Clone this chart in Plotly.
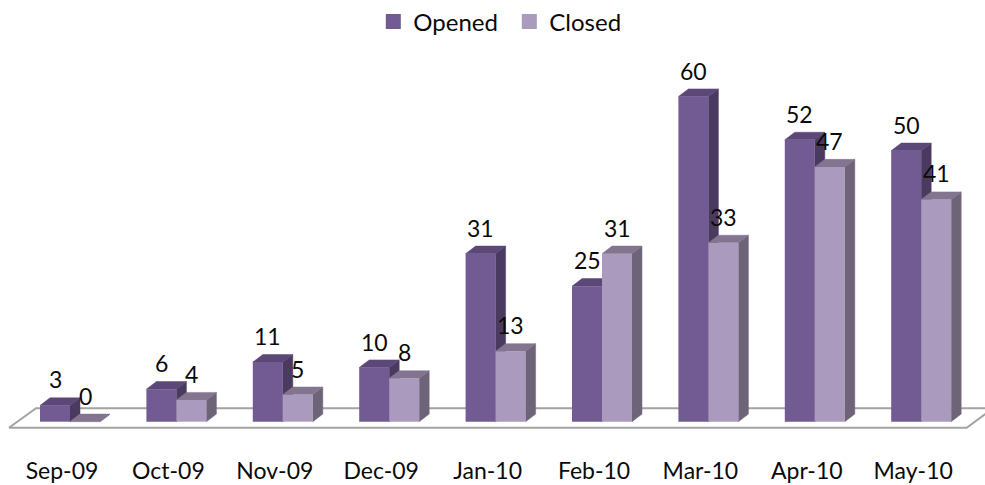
import plotly.graph_objects as go

months = ["Sep-09", "Oct-09", "Nov-09", "Dec-09", "Jan-10", "Feb-10", "Mar-10", "Apr-10", "May-10"]
opened = [3, 6, 11, 10, 31, 25, 60, 52, 50]
closed = [0, 4, 5, 8, 13, 31, 33, 47, 41]

W, H = 985, 485
PX_X = 106.4          # pixels per category
PX_Y = 5.42           # pixels per value unit
X0_PX, Y0_PX = 70.0, 421.7   # pixel position of category 0 / value 0
TOP, BOTTOM = 50, 455
BAR = 30 / PX_X
DX, DY = 10 / PX_X, 7.6 / PX_Y
FONT = "Lato, Open Sans, sans-serif"
TEXT = "#0a0a0a"
SIZE = 23

xr = [(0 - X0_PX) / PX_X, (W - X0_PX) / PX_X]
yr = [(Y0_PX - BOTTOM) / PX_Y, (Y0_PX - TOP) / PX_Y]
idx = list(range(len(months)))


def poly(groups):
    xs, ys = [], []
    for g in groups:
        xs += [p[0] for p in g] + [g[0][0], None]
        ys += [p[1] for p in g] + [g[0][1], None]
    return xs, ys


def faces(values, left_off):
    top, side = [], []
    for i, v in zip(idx, values):
        l, r = i + left_off, i + left_off + BAR
        top.append([(l, v), (r, v), (r + DX, v + DY), (l + DX, v + DY)])
        side.append([(r, 0), (r + DX, DY), (r + DX, v + DY), (r, v)])
    return poly(top), poly(side)


def face_trace(xy, color, z):
    return go.Scatter(x=xy[0], y=xy[1], mode="lines", fill="toself", fillcolor=color,
                      line=dict(color=color, width=0.5), hoverinfo="skip",
                      showlegend=False, zorder=z)


def legend_trace(name, color):
    return go.Scatter(x=[None], y=[None], mode="markers", name=name,
                      marker=dict(symbol="square", size=15, color=color))


fig = go.Figure()

# floor
front_y = (Y0_PX - 427.7) / PX_Y
back_y = (Y0_PX - 408.3) / PX_Y
fx = lambda p: (p - X0_PX) / PX_X
fig.add_trace(go.Scatter(
    x=[fx(9), fx(966.7), fx(993), fx(36), fx(9)],
    y=[front_y, front_y, back_y, back_y, front_y],
    mode="lines", line=dict(color="#a3a3a3", width=2), fill="toself", fillcolor="#ffffff",
    hoverinfo="skip", showlegend=False, zorder=-1))

o_top, o_side = faces(opened, -BAR)
c_top, c_side = faces(closed, 0)

fig.add_trace(face_trace(o_side, "#4b3a60", 0))
fig.add_trace(face_trace(o_top, "#5c4779", 0))
fig.add_trace(go.Bar(x=idx, y=opened, width=BAR, offset=-BAR, marker=dict(color="#725a92", line=dict(width=0)),
                     showlegend=False, zorder=1, hoverinfo="skip"))
fig.add_trace(face_trace(c_side, "#6e6478", 2))
fig.add_trace(face_trace(c_top, "#837590", 2))
fig.add_trace(go.Bar(x=idx, y=closed, width=BAR, offset=0, marker=dict(color="#aa9bbe", line=dict(width=0)),
                     showlegend=False, zorder=3, hoverinfo="skip"))

fig.add_trace(legend_trace("Opened", "#725a92"))
fig.add_trace(legend_trace("Closed", "#aa9bbe"))

ann = []
for values, off in ((opened, -BAR / 2), (closed, BAR / 2)):
    for i, v in zip(idx, values):
        ann.append(dict(x=i + off, y=v, text=str(v), showarrow=False, yshift=26,
                        xanchor="center", yanchor="middle",
                        font=dict(family=FONT, size=SIZE, color=TEXT)))

fig.update_layout(
    width=W, height=H, margin=dict(l=0, r=0, t=TOP, b=H - BOTTOM),
    paper_bgcolor="white", plot_bgcolor="white", barmode="overlay",
    showlegend=True,
    legend=dict(orientation="h", x=0.379, xanchor="left", y=0.955, yanchor="middle", yref="container",
                font=dict(family=FONT, size=24, color=TEXT), bgcolor="rgba(0,0,0,0)",
                itemwidth=30, entrywidth=91, entrywidthmode="pixels"),
    xaxis=dict(range=xr, showgrid=False, zeroline=False, showline=False, ticks="",
               tickvals=[i - 8 / PX_X for i in idx], ticktext=months,
               tickfont=dict(family=FONT, size=SIZE, color=TEXT)),
    yaxis=dict(range=yr, visible=False, showgrid=False, zeroline=False),
    annotations=ann,
)
fig.write_html("out.html", post_script="document.body.style.margin='0';",
               config=dict(displayModeBar=False))
